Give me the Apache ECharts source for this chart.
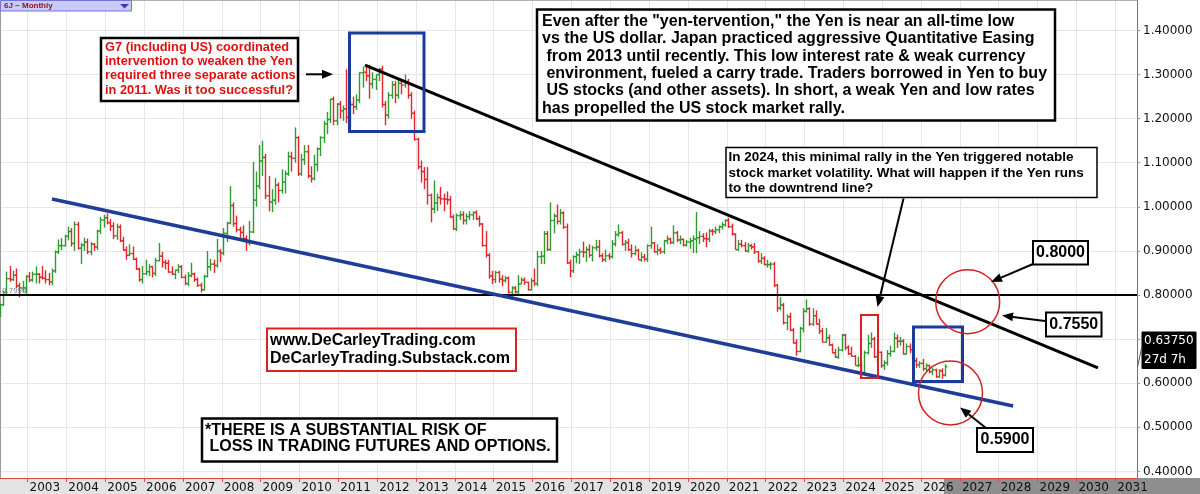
<!DOCTYPE html>
<html>
<head>
<meta charset="utf-8">
<title>6J Monthly</title>
<script src="https://cdn.jsdelivr.net/npm/echarts@6/dist/echarts.min.js"></script>
<style>
  html, body { margin: 0; padding: 0; background: #fff; }
  #chart { width: 1200px; height: 494px; }
</style>
</head>
<body>
<div id="chart"></div>
<script>
// monthly bars, first bar = April 2002
const startYear = 2002;
const startMonth = 4;

const opens = [
  0.754,0.778,0.806,0.837,0.835,0.845,0.821,0.816,0.816,
  0.842,0.834,0.847,0.847,0.840,0.838,0.835,0.830,0.855,0.898,0.912,0.912,
  0.933,0.944,0.917,0.960,0.906,0.913,0.920,0.898,0.915,0.909,0.945,0.970,
  0.975,0.964,0.956,0.934,0.954,0.923,0.902,0.890,0.894,0.881,0.859,0.835,
  0.848,0.853,0.864,0.849,0.878,0.888,0.874,0.872,0.852,0.847,0.856,0.864,
  0.840,0.826,0.844,0.848,0.835,0.822,0.812,0.842,0.864,0.870,0.867,0.899,
  0.895,0.940,0.963,1.003,0.962,0.948,0.942,0.928,0.919,0.943,1.015,1.047,
  1.104,1.112,1.025,1.011,1.015,1.049,1.037,1.056,1.075,1.114,1.110,1.157,
  1.075,1.107,1.125,1.070,1.064,1.096,1.131,1.157,1.188,1.198,1.244,1.195,
  1.233,1.218,1.222,1.203,1.232,1.227,1.242,1.304,1.305,1.297,1.279,1.289,
  1.300,1.312,1.232,1.208,1.253,1.277,1.253,1.280,1.276,1.284,1.253,1.212,
  1.153,1.091,1.080,1.062,1.026,0.995,1.009,1.021,1.018,1.017,1.016,0.977,
  0.950,0.980,0.982,0.969,0.978,0.982,0.987,0.973,0.961,0.912,0.890,0.843,
  0.835,0.851,0.836,0.833,0.838,0.806,0.816,0.807,0.825,0.834,0.829,0.812,
  0.832,0.826,0.887,0.888,0.939,0.903,0.969,0.979,0.967,0.986,0.954,0.873,
  0.855,0.887,0.891,0.898,0.897,0.903,0.890,0.907,0.909,0.889,0.880,0.889,
  0.887,0.916,0.937,0.941,0.915,0.919,0.903,0.894,0.901,0.880,0.886,0.881,
  0.912,0.918,0.898,0.902,0.898,0.923,0.927,0.919,0.941,0.925,0.926,0.913,
  0.920,0.923,0.927,0.930,0.933,0.928,0.927,0.945,0.944,0.948,0.955,0.959,
  0.969,0.955,0.938,0.903,0.915,0.912,0.900,0.912,0.909,0.898,0.877,0.883,
  0.869,0.869,0.870,0.822,0.770,0.777,0.737,0.751,0.720,0.691,0.672,0.724,
  0.763,0.769,0.734,0.753,0.734,0.718,0.693,0.703,0.687,0.669,0.659,0.675,
  0.709,0.681,0.667,0.661,0.640,0.641,0.624,0.669,0.690,0.700,0.660,0.670,
  0.640,0.646,0.667,0.672,0.702,0.695,0.695,0.666,0.683,0.676,0.651,0.642,
  0.645,0.633,0.640,0.626,0.630,0.615,0.628,0.618
];
const highs = [
  0.781,0.810,0.853,0.866,0.855,0.860,0.828,0.832,0.845,
  0.852,0.853,0.865,0.850,0.866,0.856,0.850,0.860,0.901,0.926,0.929,0.937,
  0.955,0.952,0.967,0.966,0.918,0.930,0.928,0.920,0.918,0.948,0.977,0.982,
  0.985,0.972,0.965,0.962,0.960,0.932,0.910,0.915,0.910,0.885,0.862,0.866,
  0.880,0.870,0.866,0.884,0.918,0.898,0.880,0.880,0.865,0.858,0.870,0.868,
  0.846,0.852,0.873,0.851,0.840,0.828,0.846,0.900,0.882,0.880,0.927,0.904,
  0.952,0.966,1.047,1.010,0.980,0.955,0.958,0.935,0.968,1.102,1.080,1.140,
  1.150,1.120,1.070,1.040,1.065,1.055,1.085,1.082,1.125,1.125,1.180,1.160,
  1.120,1.140,1.140,1.092,1.118,1.135,1.160,1.195,1.215,1.245,1.250,1.235,
  1.240,1.230,1.312,1.240,1.250,1.255,1.305,1.318,1.320,1.322,1.305,1.300,
  1.315,1.320,1.240,1.260,1.285,1.285,1.290,1.290,1.300,1.290,1.260,1.218,
  1.157,1.105,1.090,1.090,1.030,1.060,1.030,1.045,1.030,1.035,1.025,0.982,
  0.985,0.990,0.990,0.985,0.990,0.990,0.992,0.980,0.963,0.945,0.895,0.855,
  0.855,0.855,0.845,0.843,0.842,0.820,0.820,0.845,0.840,0.840,0.830,0.838,
  0.860,0.900,0.900,0.945,0.945,1.010,0.985,1.005,0.995,0.990,0.962,0.880,
  0.890,0.898,0.905,0.921,0.910,0.915,0.912,0.925,0.925,0.895,0.903,0.895,
  0.925,0.945,0.960,0.945,0.925,0.928,0.915,0.912,0.905,0.897,0.893,0.915,
  0.955,0.920,0.915,0.908,0.925,0.935,0.930,0.958,0.945,0.935,0.928,0.925,
  0.930,0.935,0.988,0.945,0.940,0.942,0.950,0.950,0.955,0.958,0.965,0.972,
  0.975,0.962,0.940,0.925,0.925,0.920,0.918,0.916,0.918,0.900,0.895,0.888,
  0.880,0.875,0.875,0.825,0.795,0.782,0.756,0.760,0.725,0.700,0.728,0.770,
  0.790,0.772,0.770,0.765,0.746,0.725,0.725,0.710,0.690,0.678,0.683,0.712,
  0.712,0.686,0.683,0.664,0.660,0.648,0.674,0.710,0.715,0.705,0.675,0.672,
  0.652,0.675,0.685,0.715,0.710,0.705,0.700,0.690,0.690,0.680,0.658,0.650,
  0.655,0.645,0.642,0.635,0.633,0.632,0.634,0.643
];
const lows = [
  0.750,0.775,0.800,0.830,0.832,0.816,0.795,0.806,0.801,
  0.829,0.830,0.826,0.826,0.835,0.826,0.822,0.822,0.850,0.893,0.902,0.910,
  0.924,0.910,0.900,0.903,0.870,0.900,0.893,0.890,0.900,0.902,0.938,0.953,
  0.960,0.945,0.927,0.925,0.920,0.900,0.880,0.888,0.880,0.857,0.830,0.826,
  0.845,0.843,0.840,0.843,0.876,0.862,0.858,0.850,0.845,0.836,0.850,0.838,
  0.822,0.820,0.840,0.830,0.818,0.806,0.810,0.840,0.855,0.850,0.862,0.875,
  0.890,0.920,0.960,0.955,0.942,0.925,0.920,0.900,0.912,0.940,1.000,1.040,
  1.070,1.018,0.990,0.988,1.005,1.010,1.030,1.030,1.070,1.080,1.100,1.070,
  1.070,1.095,1.065,1.055,1.060,1.080,1.115,1.145,1.165,1.190,1.185,1.185,
  1.200,1.195,1.190,1.180,1.210,1.220,1.235,1.270,1.285,1.245,1.268,1.265,
  1.285,1.225,1.185,1.200,1.245,1.235,1.245,1.255,1.270,1.245,1.200,1.150,
  1.085,1.055,1.040,1.005,0.965,0.985,0.990,1.005,0.990,1.005,0.975,0.948,
  0.945,0.970,0.960,0.960,0.970,0.970,0.970,0.955,0.910,0.885,0.837,0.825,
  0.827,0.828,0.820,0.828,0.803,0.795,0.803,0.800,0.825,0.823,0.810,0.810,
  0.820,0.820,0.870,0.870,0.900,0.900,0.940,0.960,0.960,0.950,0.870,0.840,
  0.850,0.872,0.870,0.885,0.875,0.885,0.876,0.900,0.885,0.875,0.875,0.880,
  0.883,0.910,0.932,0.912,0.900,0.900,0.885,0.890,0.880,0.875,0.876,0.875,
  0.905,0.896,0.890,0.893,0.893,0.915,0.915,0.915,0.920,0.915,0.910,0.910,
  0.905,0.895,0.895,0.915,0.920,0.908,0.920,0.935,0.938,0.940,0.948,0.955,
  0.952,0.935,0.903,0.900,0.908,0.898,0.896,0.903,0.893,0.873,0.870,0.867,
  0.862,0.858,0.818,0.762,0.765,0.733,0.720,0.718,0.690,0.662,0.670,0.715,
  0.760,0.730,0.730,0.733,0.712,0.693,0.692,0.684,0.668,0.657,0.655,0.672,
  0.675,0.664,0.660,0.640,0.636,0.624,0.618,0.665,0.680,0.657,0.645,0.635,
  0.630,0.640,0.660,0.670,0.680,0.685,0.665,0.665,0.668,0.645,0.635,0.635,
  0.628,0.628,0.622,0.618,0.612,0.612,0.610,0.615
];
const closes = [
  0.778,0.806,0.837,0.835,0.845,0.821,0.816,0.816,0.842,
  0.834,0.847,0.847,0.840,0.838,0.835,0.830,0.855,0.898,0.912,0.912,0.933,
  0.944,0.917,0.960,0.906,0.913,0.920,0.898,0.915,0.909,0.945,0.970,0.975,
  0.964,0.956,0.934,0.954,0.923,0.902,0.890,0.894,0.881,0.859,0.835,0.848,
  0.853,0.864,0.849,0.878,0.888,0.874,0.872,0.852,0.847,0.856,0.864,0.840,
  0.826,0.844,0.848,0.835,0.822,0.812,0.842,0.864,0.870,0.867,0.899,0.895,
  0.940,0.963,1.003,0.962,0.948,0.942,0.928,0.919,0.943,1.015,1.047,1.104,
  1.112,1.025,1.011,1.015,1.049,1.037,1.056,1.075,1.114,1.110,1.157,1.075,
  1.107,1.125,1.070,1.064,1.096,1.131,1.157,1.188,1.198,1.244,1.195,1.233,
  1.218,1.222,1.203,1.232,1.227,1.242,1.304,1.305,1.297,1.279,1.289,1.300,
  1.312,1.232,1.208,1.253,1.277,1.253,1.280,1.276,1.284,1.253,1.212,1.153,
  1.091,1.080,1.062,1.026,0.995,1.009,1.021,1.018,1.017,1.016,0.977,0.950,
  0.980,0.982,0.969,0.978,0.982,0.987,0.973,0.961,0.912,0.890,0.843,0.835,
  0.851,0.836,0.833,0.838,0.806,0.816,0.807,0.825,0.834,0.829,0.812,0.832,
  0.826,0.887,0.888,0.939,0.903,0.969,0.979,0.967,0.986,0.954,0.873,0.855,
  0.887,0.891,0.898,0.897,0.903,0.890,0.907,0.909,0.889,0.880,0.889,0.887,
  0.916,0.937,0.941,0.915,0.919,0.903,0.894,0.901,0.880,0.886,0.881,0.912,
  0.918,0.898,0.902,0.898,0.923,0.927,0.919,0.941,0.925,0.926,0.913,0.920,
  0.923,0.927,0.930,0.933,0.928,0.927,0.945,0.944,0.948,0.955,0.959,0.969,
  0.955,0.938,0.903,0.915,0.912,0.900,0.912,0.909,0.898,0.877,0.883,0.869,
  0.869,0.870,0.822,0.770,0.777,0.737,0.751,0.720,0.691,0.672,0.724,0.763,
  0.769,0.734,0.753,0.734,0.718,0.693,0.703,0.687,0.669,0.659,0.675,0.709,
  0.681,0.667,0.661,0.640,0.641,0.624,0.669,0.690,0.700,0.660,0.670,0.640,
  0.646,0.667,0.672,0.702,0.695,0.695,0.666,0.683,0.676,0.651,0.642,0.645,
  0.633,0.640,0.626,0.630,0.615,0.628,0.618,0.6375
];

const yearTicks = [2003,2004,2005,2006,2007,2008,2009,2010,2011,2012,2013,2014,2015,2016,2017,
  2018,2019,2020,2021,2022,2023,2024,2025,2026,2027,2028,2029,2030,2031];
const priceTicks = [0.4,0.5,0.6,0.7,0.8,0.9,1.0,1.1,1.2,1.3,1.4];

// drawn lines (data units)
const downtrendEnds = [[2011.687, 1.3215], [2030.555, 0.6345]];
const supportEnds = [[2003.63, 1.0177], [2028.37, 0.5483]];
const pivotLevel = 0.7999;
const lastPrice = '0.63750';

const xMin = 2002.292, xMax = 2031.559;
const yMin = 0.385, yMax = 1.469;

const UP = '#2f9a32', DOWN = '#e2262b';
const BOLD = '"Liberation Sans", Arial, sans-serif';

const bars = opens.map((o, i) => [startYear + (startMonth - 1 + i + 0.5) / 12, o, highs[i], lows[i], closes[i]]);

function renderOhlc(params, api) {
  const x = api.value(0);
  const o = api.value(1), h = api.value(2), l = api.value(3), c = api.value(4);
  const pH = api.coord([x, h]), pL = api.coord([x, l]);
  const pO = api.coord([x, o]), pC = api.coord([x, c]);
  const color = c >= o ? UP : DOWN;
  const px = Math.round(pH[0]) + 0.5;
  const st = { stroke: color, lineWidth: 1.4 };
  return {
    type: 'group',
    children: [
      { type: 'line', shape: { x1: px, y1: pH[1], x2: px, y2: pL[1] }, style: st },
      { type: 'line', shape: { x1: px - 2, y1: pO[1], x2: px, y2: pO[1] }, style: st },
      { type: 'line', shape: { x1: px, y1: pC[1], x2: px + 2, y2: pC[1] }, style: st }
    ]
  };
}

function rect(x, y, w, h, stroke, lw, fill) {
  return { type: 'rect', z: 10, shape: { x, y, width: w, height: h },
    style: { fill: fill || 'none', stroke, lineWidth: lw } };
}
function text(x, y, str, font, fill, lh, align) {
  return { type: 'text', z: 11, x, y,
    style: { text: str, font, fill, lineHeight: lh, align: align || 'left', verticalAlign: 'top' } };
}
function circle(cx, cy, r) {
  return { type: 'circle', z: 10, shape: { cx, cy, r }, style: { fill: 'none', stroke: '#d41f1f', lineWidth: 1.5 } };
}
function arrow(x1, y1, x2, y2) {
  const a = Math.atan2(y2 - y1, x2 - x1), len = 11, half = 4.5;
  const bx = x2 - len * Math.cos(a), by = y2 - len * Math.sin(a);
  return [
    { type: 'line', z: 10, shape: { x1, y1, x2: bx, y2: by }, style: { stroke: '#000', lineWidth: 2 } },
    { type: 'polygon', z: 10, shape: { points: [[x2, y2],
      [bx - half * Math.sin(a), by + half * Math.cos(a)],
      [bx + half * Math.sin(a), by - half * Math.cos(a)]] }, style: { fill: '#000' } }
  ];
}

const bigNote = [
  'Even after the "yen-tervention," the Yen is near an all-time low',
  'vs the US dollar. Japan practiced aggressive Quantitative Easing',
  ' from 2013 until recently. This low interest rate & weak currency',
  ' environment, fueled a carry trade. Traders borrowed in Yen to buy',
  ' US stocks (and other assets). In short, a weak Yen and low rates',
  'has propelled the US stock market rally.'
].join('\n');
const g7Note = [
  'G7 (including US) coordinated',
  'intervention to weaken the Yen',
  'required three separate actions',
  'in 2011. Was it too successful?'
].join('\n');
const note2024 = [
  'In 2024, this minimal rally in the Yen triggered notable',
  'stock market volatility. What will happen if the Yen runs',
  'to the downtrend line?'
].join('\n');

const graphics = [
  // bottom axis band
  { type: 'rect', z: -1, shape: { x: 0, y: 478, width: 944, height: 16 }, style: { fill: '#e3e3e3' } },
  { type: 'rect', z: -1, shape: { x: 944, y: 478, width: 256, height: 16 }, style: { fill: '#8e8e8e' } },
  { type: 'rect', z: 1, shape: { x: 0, y: 0, width: 1, height: 478 }, style: { fill: '#9a9a9a' } },
  { type: 'rect', z: 1, shape: { x: 0, y: 0, width: 1137, height: 1 }, style: { fill: '#b0b0b0' } },

  // chart tag
  rect(0.5, 0.5, 131, 10.5, '#7474d8', 1, '#cacaf7'),
  text(4, 1.5, '6J ~ Monthly', 'bold 8px ' + BOLD, '#8b1414', 9),
  { type: 'polygon', z: 11, shape: { points: [[120, 4], [129, 4], [124.5, 8.5]] }, style: { fill: '#3a3aa8' } },

  // small level tag at left
  text(2, 287, '0.7999', '7px "DejaVu Sans"', '#888', 8),

  // boxes on the chart
  rect(349.5, 33, 74.5, 98.5, '#1a3a9c', 3),
  rect(861, 315, 17, 63, '#e02020', 2),
  rect(913.5, 327, 49, 54.5, '#1a3a9c', 3),
  circle(967.7, 301.7, 32),
  circle(950.5, 392.9, 32),

  // G7 note
  rect(101, 38, 197, 63, '#000', 2.5, '#fff'),
  text(105, 40.2, g7Note, 'bold 12.8px ' + BOLD, '#e01010', 14.3),
  ...arrow(306, 74.3, 333, 74.3),

  // main note
  rect(537, 9.5, 518, 111, '#000', 2.5, '#fff'),
  text(542, 13, bigNote, 'bold 16px ' + BOLD, '#000', 17.3),

  // 2024 note
  rect(726, 147.5, 371, 50, '#000', 1.5, '#fff'),
  text(728.5, 150, note2024, 'bold 13.5px ' + BOLD, '#000', 15.3),
  ...arrow(903.5, 198.5, 877.5, 307),

  // level boxes
  rect(1033, 241, 55, 23.5, '#000', 2, '#fff'),
  text(1060.5, 244.5, '0.8000', 'bold 16px ' + BOLD, '#000', 17, 'center'),
  ...arrow(1033, 264, 991, 282),
  rect(1046, 312.5, 55.5, 24, '#000', 2, '#fff'),
  text(1073.8, 316, '0.7550', 'bold 16px ' + BOLD, '#000', 17, 'center'),
  ...arrow(1045, 321, 1002, 315.5),
  rect(977, 428, 56, 24, '#000', 2, '#fff'),
  text(1005, 431.5, '0.5900', 'bold 16px ' + BOLD, '#000', 17, 'center'),
  ...arrow(986, 428, 960, 407.5),

  // web + disclaimer
  rect(267, 328.5, 249, 42.5, '#e02020', 2, '#fff'),
  text(270, 331.9, 'www.DeCarleyTrading.com\nDeCarleyTrading.Substack.com', 'bold 16px ' + BOLD, '#000', 17.6),
  rect(202, 418.5, 355, 43, '#000', 2.5, '#fff'),
  text(205, 422.6, '*THERE IS A SUBSTANTIAL RISK OF\n LOSS IN TRADING FUTURES AND OPTIONS.', 'bold 16px ' + BOLD, '#000', 15.8),

  // last price tag
  { type: 'line', z: 11, shape: { x1: 1137.5, y1: 367, x2: 1142, y2: 346 }, style: { stroke: '#555', lineWidth: 1 } },
  rect(1142, 332, 54, 36.5, '#000', 1, '#000'),
  text(1144, 331.5, lastPrice + '\n27d 7h', '12px "DejaVu Sans"', '#fff', 19)
];

const chart = echarts.init(document.getElementById('chart'));
chart.setOption({
  animation: false,
  backgroundColor: '#fff',
  grid: { left: 0, top: 0, right: 63, bottom: 16 },
  xAxis: {
    type: 'value', min: xMin, max: xMax,
    axisLine: { show: true, onZero: false, lineStyle: { color: '#e04848', width: 1 } },
    axisTick: { show: true, customValues: yearTicks, length: 4, lineStyle: { color: '#e04848' } },
    axisLabel: {
      customValues: yearTicks, formatter: v => String(v), align: 'left', margin: 4,
      padding: [0, 0, 0, 2], color: '#111', fontFamily: 'DejaVu Sans', fontSize: 12
    },
    splitLine: { show: true, lineStyle: { color: '#e6e6e6', width: 1 } }
  },
  yAxis: {
    type: 'value', position: 'right', min: yMin, max: yMax,
    axisLine: { show: true, onZero: false, lineStyle: { color: '#e04848', width: 1 } },
    axisTick: { show: true, customValues: priceTicks, length: 3, lineStyle: { color: '#999' } },
    axisLabel: {
      customValues: priceTicks, formatter: v => v.toFixed(5), margin: 6,
      padding: [0, 0, 9, 0], color: '#111', fontFamily: 'DejaVu Sans', fontSize: 12
    },
    splitLine: { show: true, lineStyle: { color: '#e6e6e6', width: 1 } }
  },
  series: [
    {
      type: 'custom', name: '6J', renderItem: renderOhlc, clip: true, z: 3,
      encode: { x: 0, y: [1, 2, 3, 4] }, data: bars
    },
    {
      type: 'line', data: [[xMin, pivotLevel], [xMax, pivotLevel]], symbol: 'none', silent: true, z: 4,
      lineStyle: { color: '#000', width: 2 }
    },
    {
      type: 'line', data: supportEnds, symbol: 'none', silent: true, z: 4,
      lineStyle: { color: '#1f3c98', width: 3.5 }
    },
    {
      type: 'line', data: downtrendEnds, symbol: 'none', silent: true, z: 4,
      lineStyle: { color: '#000', width: 3 }
    }
  ],
  graphic: graphics
});
</script>
</body>
</html>
